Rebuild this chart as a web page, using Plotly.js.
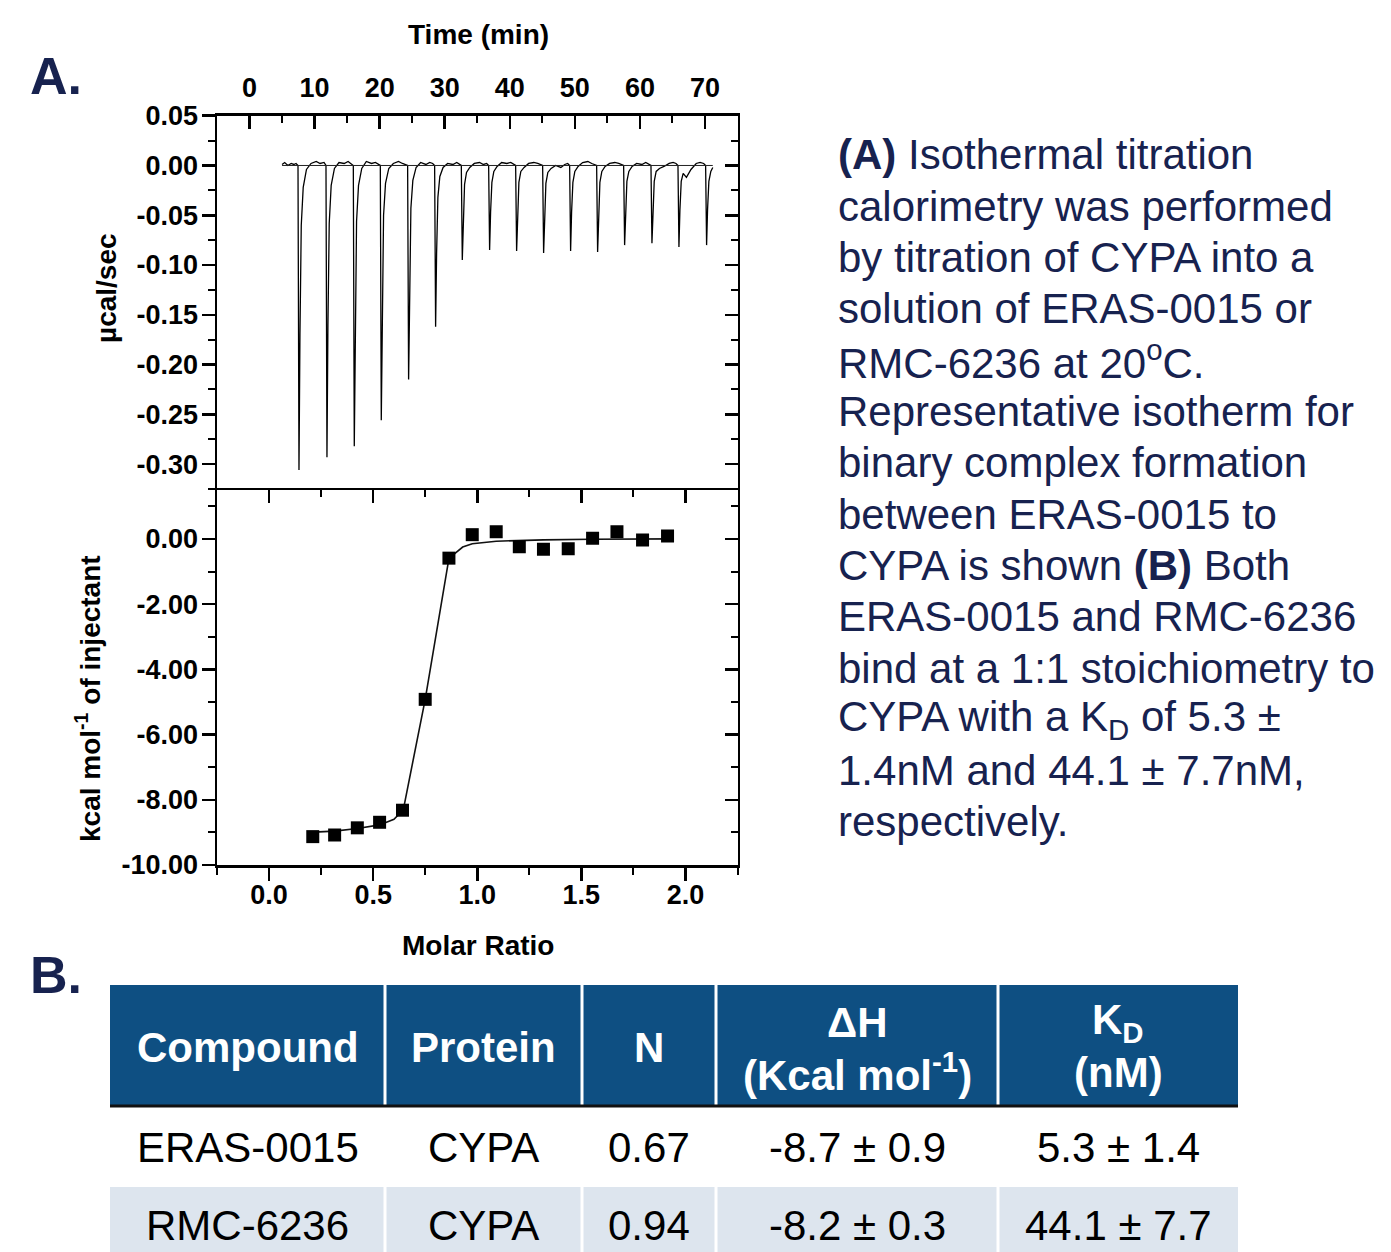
<!DOCTYPE html>
<html>
<head>
<meta charset="utf-8">
<script src="https://cdn.plot.ly/plotly-3.0.1.min.js"></script>
<style>html,body{margin:0;padding:0;background:#fff;}#chart{width:1391px;height:1252px;}</style>
</head>
<body>
<div id="chart"></div>
<script>
// ---------- DATA ----------
// Raw ITC trace (time in min, power in µcal/sec)
const itcTime = [
 5.0, 5.4, 5.9, 6.4, 6.8, 7.15,
 7.45, 7.6, 7.75, 7.95, 8.25, 8.75, 9.45, 10.25, 10.85, 11.45,
 11.75, 11.9, 12.05, 12.25, 12.55, 13.05, 13.75, 14.55, 15.15, 15.65,
 15.95, 16.1, 16.25, 16.45, 16.75, 17.25, 17.95, 18.75, 19.35, 19.8,
 20.1, 20.25, 20.4, 20.6, 20.9, 21.4, 22.1, 22.9, 23.5, 24.0,
 24.3, 24.45, 24.6, 24.8, 25.1, 25.6, 26.3, 27.1, 27.7, 28.15,
 28.45, 28.6, 28.75, 28.95, 29.25, 29.75, 30.45, 31.25, 31.85, 32.25,
 32.55, 32.7, 32.85, 33.05, 33.35, 33.85, 34.55, 35.35, 35.95, 36.45,
 36.75, 36.9, 37.05, 37.25, 37.55, 38.05, 38.75, 39.55, 40.15, 40.6,
 40.9, 41.05, 41.2, 41.4, 41.7, 42.2, 42.9, 43.7, 44.3, 44.75,
 45.05, 45.2, 45.35, 45.55, 45.85, 46.35, 47.05, 47.85, 48.45, 48.9,
 49.2, 49.35, 49.5, 49.7, 50.0, 50.5, 51.2, 52.0, 52.6, 53.05,
 53.35, 53.5, 53.65, 53.85, 54.15, 54.65, 55.35, 56.15, 56.75, 57.2,
 57.5, 57.65, 57.8, 58.0, 58.3, 58.8, 59.5, 60.3, 60.9, 61.4,
 61.7, 61.85, 62.0, 62.2, 62.5, 63.0, 63.7, 64.5, 65.1, 65.55,
 65.85, 66.0, 66.15, 66.35, 66.65, 67.15, 67.85, 68.65, 69.25, 69.8,
 70.1, 70.25, 70.4, 70.6, 70.9, 71.2
];
const itcPower = [
 0.001, 0.003, 0.000, 0.002, 0.001, 0.002,
 0.000, -0.306, -0.170, -0.060, -0.022, -0.004, 0.002, 0.004, 0.002, 0.003,
 0.000, -0.293, -0.160, -0.058, -0.020, -0.003, 0.003, 0.002, 0.004, 0.002,
 0.000, -0.282, -0.155, -0.056, -0.020, -0.003, 0.004, 0.002, 0.003, 0.001,
 0.000, -0.256, -0.140, -0.050, -0.018, -0.003, 0.002, 0.004, 0.002, 0.001,
 0.000, -0.215, -0.118, -0.043, -0.015, -0.002, 0.003, 0.001, 0.003, 0.002,
 0.000, -0.162, -0.089, -0.032, -0.011, -0.002, 0.002, 0.001, 0.003, 0.001,
 0.000, -0.095, -0.052, -0.019, -0.007, -0.002, 0.002, 0.003, 0.001, 0.002,
 0.000, -0.085, -0.047, -0.017, -0.006, -0.001, 0.003, 0.002, 0.003, 0.001,
 0.000, -0.086, -0.047, -0.017, -0.006, -0.002, 0.002, 0.003, 0.002, 0.001,
 0.000, -0.088, -0.048, -0.018, -0.007, -0.003, 0.000, -0.002, 0.001, 0.002,
 0.000, -0.086, -0.047, -0.017, -0.006, -0.001, 0.003, 0.004, 0.002, 0.001,
 0.000, -0.087, -0.048, -0.017, -0.006, -0.001, 0.002, 0.003, 0.002, 0.001,
 0.000, -0.080, -0.044, -0.016, -0.006, -0.001, 0.002, 0.001, 0.003, 0.001,
 0.000, -0.078, -0.043, -0.016, -0.006, -0.003, -0.001, 0.002, 0.003, 0.002,
 0.000, -0.082, -0.045, -0.016, -0.008, -0.012, -0.004, 0.002, 0.003, 0.002,
 0.000, -0.080, -0.044, -0.016, -0.006, -0.002
];
const baselineTime = [5.0, 71.2];
const baselinePower = [0, 0];

// Integrated heats (molar ratio vs kcal/mol of injectant)
const molarRatio = [0.210, 0.315, 0.424, 0.531, 0.641, 0.750, 0.864, 0.976, 1.091, 1.202, 1.318, 1.437, 1.554, 1.671, 1.794, 1.914];
const heat = [-9.13, -9.08, -8.86, -8.69, -8.32, -4.92, -0.59, 0.13, 0.22, -0.24, -0.32, -0.30, 0.02, 0.22, -0.03, 0.09];
// Fitted binding curve
const fitRatio = [0.19, 0.315, 0.424, 0.531, 0.60, 0.645, 0.750, 0.864, 0.93, 0.976, 1.091, 1.202, 1.318, 1.55, 1.94];
const fitHeat = [-9.00, -8.96, -8.88, -8.77, -8.60, -8.30, -4.92, -0.60, -0.25, -0.15, -0.07, -0.05, -0.03, -0.01, 0.00];

// Axis ticks
const timeTicks = [0, 10, 20, 30, 40, 50, 60, 70];
const timeTickText = ["0", "10", "20", "30", "40", "50", "60", "70"];
const powerTicks = [0.05, 0, -0.05, -0.10, -0.15, -0.20, -0.25, -0.30];
const powerTickText = ["0.05", "0.00", "-0.05", "-0.10", "-0.15", "-0.20", "-0.25", "-0.30"];
const ratioTicks = [0, 0.5, 1.0, 1.5, 2.0];
const ratioTickText = ["0.0", "0.5", "1.0", "1.5", "2.0"];
const heatTicks = [0, -2, -4, -6, -8, -10];
const heatTickText = ["0.00", "-2.00", "-4.00", "-6.00", "-8.00", "-10.00"];

// Description text lines
const descLines = [
 "<b>(A)</b> Isothermal titration",
 "calorimetry was performed",
 "by titration of CYPA into a",
 "solution of ERAS-0015 or",
 "RMC-6236 at 20<sup>o</sup>C.",
 "Representative isotherm for",
 "binary complex formation",
 "between ERAS-0015 to",
 "CYPA is shown <b>(B)</b> Both",
 "ERAS-0015 and RMC-6236",
 "bind at a 1:1 stoichiometry to",
 "CYPA with a K<sub>D</sub> of 5.3 ±",
 "1.4nM and 44.1 ± 7.7nM,",
 "respectively."
];

// Table
const headerLine1 = ["Compound", "Protein", "N", "ΔH", "K<sub>D</sub>"];
const headerLine2 = ["", "", "", "(Kcal mol<sup>-1</sup>)", "(nM)"];
const compounds = ["ERAS-0015", "RMC-6236"];
const proteins = ["CYPA", "CYPA"];
const nValues = ["0.67", "0.94"];
const deltaH = ["-8.7 ± 0.9", "-8.2 ± 0.3"];
const kdValues = ["5.3 ± 1.4", "44.1 ± 7.7"];

// ---------- LAYOUT HELPERS ----------
const W = 1391, H = 1252;
const px = x => x / W;
const py = y => 1 - y / H;
const FONT = "Liberation Sans, Arial, sans-serif";
const NAVY = "#17224f";
const TABLE_BLUE = "#0e4f82";
const ROW_ALT = "#dde5ee";

const plotL = 217, plotR = 737.5, topT = 115.7, midY = 490, botB = 865;

const tickFont = {family: FONT, size: 27, color: "#000", weight: "bold"};
function ax(extra) {
  return Object.assign({
    showline: true, linecolor: "#000", linewidth: 2.5,
    showgrid: false, zeroline: false,
    ticklen: 13, tickwidth: 2.5, tickcolor: "#000",
    tickfont: tickFont, fixedrange: true
  }, extra);
}
function minorTicks(dir, step) {
  return {ticks: dir, tickmode: "linear", tick0: 0, dtick: step, ticklen: 7, tickwidth: 2, tickcolor: "#000"};
}

const traces = [
  {x: itcTime, y: itcPower, xaxis: "x2", yaxis: "y2", mode: "lines",
   line: {color: "#000", width: 1.3}, hoverinfo: "skip"},
  {x: baselineTime, y: baselinePower, xaxis: "x2", yaxis: "y2", mode: "lines",
   line: {color: "#222", width: 1}, hoverinfo: "skip"},
  {x: fitRatio, y: fitHeat, xaxis: "x", yaxis: "y", mode: "lines",
   line: {color: "#111", width: 1.6}, hoverinfo: "skip"},
  {x: molarRatio, y: heat, xaxis: "x", yaxis: "y", mode: "markers",
   marker: {symbol: "square", size: 13, color: "#000"}},
  // placeholders so the mirror axes are drawn
  {x: [null], y: [null], xaxis: "x3", yaxis: "y", mode: "markers", hoverinfo: "skip"},
  {x: [null], y: [null], xaxis: "x", yaxis: "y3", mode: "markers", hoverinfo: "skip"},
  {x: [null], y: [null], xaxis: "x2", yaxis: "y4", mode: "markers", hoverinfo: "skip"}
];

const xRangeMR = [-0.25, 2.25];
const yRangeHeat = [-10, 1.5];
const xRangeT = [-5, 75];
const yRangeP = [-0.326, 0.05];

const layout = {
  width: W, height: H,
  margin: {l: 0, r: 0, t: 0, b: 0},
  paper_bgcolor: "#fff", plot_bgcolor: "rgba(0,0,0,0)",
  showlegend: false,
  font: {family: FONT, color: "#000"},
  xaxis: ax({domain: [px(plotL), px(plotR)], anchor: "y", range: xRangeMR,
    tickvals: ratioTicks, ticktext: ratioTickText, ticks: "outside", ticklabelstandoff: -9,
    minor: minorTicks("outside", 0.25)}),
  xaxis3: ax({overlaying: "x", anchor: "y", side: "top", range: xRangeMR,
    tickvals: ratioTicks, ticks: "inside", showticklabels: false,
    minor: minorTicks("inside", 0.25)}),
  yaxis: ax({domain: [py(botB), py(midY)], anchor: "x", range: yRangeHeat,
    tickvals: heatTicks, ticktext: heatTickText, ticks: "outside", ticklabelstandoff: -2,
    minor: minorTicks("outside", 1)}),
  yaxis3: ax({overlaying: "y", anchor: "x", side: "right", range: yRangeHeat,
    tickvals: heatTicks, ticks: "inside", showticklabels: false,
    minor: minorTicks("inside", 1)}),
  xaxis2: ax({domain: [px(plotL), px(plotR)], anchor: "y2", side: "top", range: xRangeT,
    tickvals: timeTicks, ticktext: timeTickText, ticks: "inside", ticklabelstandoff: 5,
    minor: minorTicks("inside", 5)}),
  yaxis2: ax({domain: [py(midY), py(topT)], anchor: "x2", range: yRangeP,
    tickvals: powerTicks, ticktext: powerTickText, ticks: "outside", ticklabelstandoff: -2,
    minor: minorTicks("outside", 0.025)}),
  yaxis4: ax({overlaying: "y2", anchor: "x2", side: "right", range: yRangeP,
    tickvals: powerTicks, ticks: "inside", showticklabels: false,
    minor: minorTicks("inside", 0.025)}),
  shapes: [],
  annotations: []
};

function addText(text, x, y, opts) {
  layout.annotations.push(Object.assign({
    text: text, x: px(x), y: py(y), xref: "paper", yref: "paper",
    showarrow: false, xanchor: "center", yanchor: "middle",
    font: {family: FONT, size: 28, color: "#000"}
  }, opts || {}));
}

// Axis titles
const titleFont = {family: FONT, size: 28, color: "#000", weight: "bold"};
addText("Time (min)", 478, 35, {font: titleFont});
addText("Molar Ratio", 478, 945, {font: titleFont});
addText("µcal/sec", 106, 288, {font: titleFont, textangle: -90});
addText("kcal mol<sup>-1</sup> of injectant", 88, 699, {font: titleFont, textangle: -90});

// Panel labels
const panelFont = {family: FONT, size: 52, color: NAVY, weight: "bold"};
addText("A.", 28, 76, {font: panelFont, xanchor: "left"});
addText("B.", 28, 975, {font: panelFont, xanchor: "left"});

// Description
descLines.forEach((t, i) => {
  addText(t, 836, 155 + i * 51.3, {xanchor: "left",
    font: {family: FONT, size: 42, color: NAVY}});
});

// Table
const colEdges = [110, 385, 582, 716, 998, 1238];
const hdrTop = 985, hdrBot = 1105, row1Bot = 1185, row2Bot = 1265;
layout.shapes.push({type: "rect", xref: "paper", yref: "paper",
  x0: px(colEdges[0]), x1: px(colEdges[5]), y0: py(hdrBot), y1: py(hdrTop),
  fillcolor: TABLE_BLUE, line: {width: 0}, layer: "below"});
layout.shapes.push({type: "rect", xref: "paper", yref: "paper",
  x0: px(colEdges[0]), x1: px(colEdges[5]), y0: py(row2Bot), y1: py(row1Bot + 2),
  fillcolor: ROW_ALT, line: {width: 0}, layer: "below"});
for (let i = 1; i < colEdges.length - 1; i++) {
  layout.shapes.push({type: "line", xref: "paper", yref: "paper",
    x0: px(colEdges[i]), x1: px(colEdges[i]), y0: py(row2Bot), y1: py(hdrTop),
    line: {color: "#ffffff", width: 3}});
}
layout.shapes.push({type: "line", xref: "paper", yref: "paper",
  x0: px(colEdges[0]), x1: px(colEdges[5]), y0: py(hdrBot + 1), y1: py(hdrBot + 1),
  line: {color: "#111", width: 3}});

const hdrFont = {family: FONT, size: 42, color: "#fff", weight: "bold"};
const cellFont = {family: FONT, size: 42, color: "#000"};
headerLine1.forEach((t, i) => {
  const cx = (colEdges[i] + colEdges[i + 1]) / 2;
  if (headerLine2[i]) {
    addText(t, cx, 1022, {font: hdrFont});
    addText(headerLine2[i], cx, 1072, {font: hdrFont});
  } else {
    addText(t, cx, 1047, {font: hdrFont});
  }
});
const rowsY = [1147, 1225];
[compounds, proteins, nValues, deltaH, kdValues].forEach((col, c) => {
  const cx = (colEdges[c] + colEdges[c + 1]) / 2;
  col.forEach((v, r) => addText(v, cx, rowsY[r], {font: cellFont}));
});

Plotly.newPlot("chart", traces, layout, {displayModeBar: false, staticPlot: true});
</script>
</body>
</html>
